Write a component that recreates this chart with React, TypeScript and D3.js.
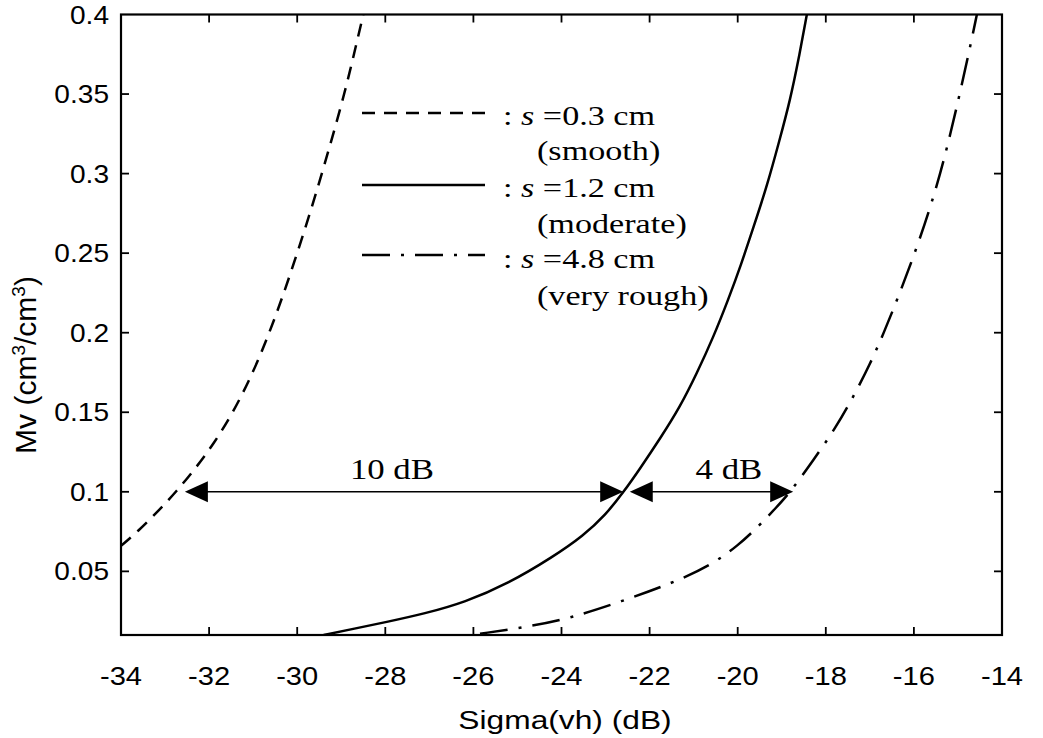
import React from 'react';
import * as d3 from 'd3';

// ---------- data ----------
const xTicks = [-34, -32, -30, -28, -26, -24, -22, -20, -18, -16, -14];
const yTicks = [0.05, 0.1, 0.15, 0.2, 0.25, 0.3, 0.35, 0.4];

// s = 0.3 cm (smooth)
const smoothX = [-34.0, -33.62, -33.15, -32.75, -32.3, -31.9, -31.45, -31.0, -30.63, -30.3, -30.0, -29.71, -29.44, -29.18, -28.93, -28.71, -28.5];
const smoothY = [0.066, 0.075, 0.088, 0.1, 0.115, 0.13, 0.15, 0.175, 0.2, 0.225, 0.25, 0.275, 0.3, 0.325, 0.35, 0.375, 0.4];

// s = 1.2 cm (moderate)
const moderateX = [-29.4, -28.7, -28.0, -27.1, -26.2, -25.2, -24.2, -23.5, -23.0, -22.6, -22.22, -21.76, -21.31, -20.93, -20.55, -20.22, -19.92, -19.64, -19.34, -19.05, -18.81, -18.62, -18.43];
const moderateY = [0.01, 0.014, 0.018, 0.0235, 0.0305, 0.0425, 0.059, 0.0725, 0.0855, 0.0995, 0.1145, 0.1335, 0.1533, 0.1743, 0.1974, 0.2204, 0.243, 0.2665, 0.2917, 0.321, 0.3462, 0.3714, 0.4];

// s = 4.8 cm (very rough)
const veryRoughX = [-25.85, -24.8, -23.8, -22.65, -21.45, -20.6, -20.0, -19.5, -19.13, -18.8, -18.28, -17.78, -17.37, -17.0, -16.68, -16.32, -15.98, -15.67, -15.4, -15.17, -14.96, -14.76, -14.57];
const veryRoughY = [0.0108, 0.015, 0.0205, 0.031, 0.043, 0.054, 0.066, 0.079, 0.09, 0.1, 0.12, 0.14, 0.16, 0.18, 0.2, 0.225, 0.25, 0.275, 0.3, 0.325, 0.35, 0.375, 0.4];

const legendSizes = ['0.3', '1.2', '4.8'];
const legendDescs = ['(smooth)', '(moderate)', '(very rough)'];

const arrowFrom = [-32.55, -22.45];
const arrowTo = [-22.6, -18.74];
const arrowLabels = ['10 dB', '4 dB'];
const arrowLabelX = [-27.85, -20.2];
const arrowLevel = 0.1;

const xLabel = 'Sigma(vh) (dB)';

// ---------- layout ----------
const W = 1043, H = 738;
const L = 121, R = 1002, T = 14.5, B = 635;
const TICK = 8;
const SANS = '"Liberation Sans", Arial, sans-serif';
const SERIF = '"Liberation Serif", "Times New Roman", serif';

const x = d3.scaleLinear().domain([-34, -14]).range([L, R]);
const y = d3.scaleLinear().domain([0.01, 0.4]).range([B, T]);

const line = d3.line<[number, number]>()
  .x(d => x(d[0]))
  .y(d => y(d[1]))
  .curve(d3.curveBasis);

const zip = (a: number[], b: number[]) => a.map((v, i) => [v, b[i]] as [number, number]);

const series = [
  { pts: zip(smoothX, smoothY), dash: '13,9' },
  { pts: zip(moderateX, moderateY), dash: undefined },
  { pts: zip(veryRoughX, veryRoughY), dash: '28,11,3,11' },
];

function SText(props: { x: number; y: number; sx: number; anchor?: string; font: string; size: number; children: any }) {
  const { x: tx, y: ty, sx, anchor, font, size, children } = props;
  return (
    <text transform={`translate(${tx},${ty}) scale(${sx},1)`} textAnchor={anchor || 'start'}
      fontFamily={font} fontSize={size} fill="#000">{children}</text>
  );
}

function Arrow({ x1, x2, yv }: { x1: number; x2: number; yv: number }) {
  const py = y(yv);
  const a = x(x1), b = x(x2);
  const hl = 23, hw = 10.5;
  return (
    <g>
      <line x1={a + hl - 2} x2={b - hl + 2} y1={py} y2={py} stroke="#000" strokeWidth={1.6} />
      <path d={`M${a},${py} L${a + hl},${py - hw} L${a + hl},${py + hw} Z`} fill="#000" />
      <path d={`M${b},${py} L${b - hl},${py - hw} L${b - hl},${py + hw} Z`} fill="#000" />
    </g>
  );
}

export default function App() {
  const legendY = [113, 185, 255];
  const legendTextY = [125, 197, 268];
  const legendDescY = [160, 233, 305];
  return (
    <svg width={W} height={H} style={{ position: 'absolute', left: 0, top: 0, background: '#fff' }}>
      <rect x={0} y={0} width={W} height={H} fill="#fff" />
      <defs>
        <clipPath id="plot"><rect x={L} y={T} width={R - L} height={B - T} /></clipPath>
      </defs>

      {/* curves */}
      <g clipPath="url(#plot)">
        {series.map((s, i) => (
          <path key={i} d={line(s.pts) || ''} fill="none" stroke="#000" strokeWidth={2.5}
            strokeDasharray={s.dash} />
        ))}
      </g>

      {/* frame */}
      <rect x={L} y={T} width={R - L} height={B - T} fill="none" stroke="#000" strokeWidth={2.2} />

      {/* x ticks */}
      {xTicks.map(t => (
        <g key={'x' + t}>
          {t !== -34 && t !== -14 && (
            <>
              <line x1={x(t)} x2={x(t)} y1={B} y2={B - TICK} stroke="#000" strokeWidth={1.8} />
              <line x1={x(t)} x2={x(t)} y1={T} y2={T + TICK} stroke="#000" strokeWidth={1.8} />
            </>
          )}
          <SText x={x(t)} y={685} sx={1.12} anchor="middle" font={SANS} size={26}>{String(t)}</SText>
        </g>
      ))}

      {/* y ticks */}
      {yTicks.map(t => (
        <g key={'y' + t}>
          {t !== 0.4 && (
            <>
              <line x1={L} x2={L + TICK} y1={y(t)} y2={y(t)} stroke="#000" strokeWidth={1.8} />
              <line x1={R} x2={R - TICK} y1={y(t)} y2={y(t)} stroke="#000" strokeWidth={1.8} />
            </>
          )}
          <SText x={109} y={y(t) + 9} sx={1.08} anchor="end" font={SANS} size={26}>{d3.format('')(t)}</SText>
        </g>
      ))}

      {/* axis labels */}
      <SText x={565} y={729} sx={1.22} anchor="middle" font={SANS} size={26}>{xLabel}</SText>
      <text transform="translate(36,365) rotate(-90)" textAnchor="middle" fontFamily={SANS} fontSize={30} fill="#000">
        Mv (cm<tspan dy={-11} fontSize={19}>3</tspan><tspan dy={11}>/cm</tspan><tspan dy={-11} fontSize={19}>3</tspan><tspan dy={11}>)</tspan>
      </text>

      {/* legend */}
      {series.map((s, i) => (
        <g key={'lg' + i}>
          <line x1={362} x2={485} y1={legendY[i]} y2={legendY[i]} stroke="#000" strokeWidth={2.5} strokeDasharray={s.dash} />
          <text transform={`translate(503,${legendTextY[i]}) scale(1.22,1)`} fontFamily={SERIF} fontSize={28} fill="#000">
            : <tspan fontStyle="italic">s</tspan> ={legendSizes[i]} cm
          </text>
          <SText x={537} y={legendDescY[i]} sx={1.22} font={SERIF} size={28}>{legendDescs[i]}</SText>
        </g>
      ))}

      {/* annotations */}
      {arrowFrom.map((f, i) => (
        <g key={'ar' + i}>
          <Arrow x1={f} x2={arrowTo[i]} yv={arrowLevel} />
          <SText x={x(arrowLabelX[i])} y={y(arrowLevel) - 13} sx={1.2} anchor="middle" font={SERIF} size={29}>{arrowLabels[i]}</SText>
        </g>
      ))}
    </svg>
  );
}
